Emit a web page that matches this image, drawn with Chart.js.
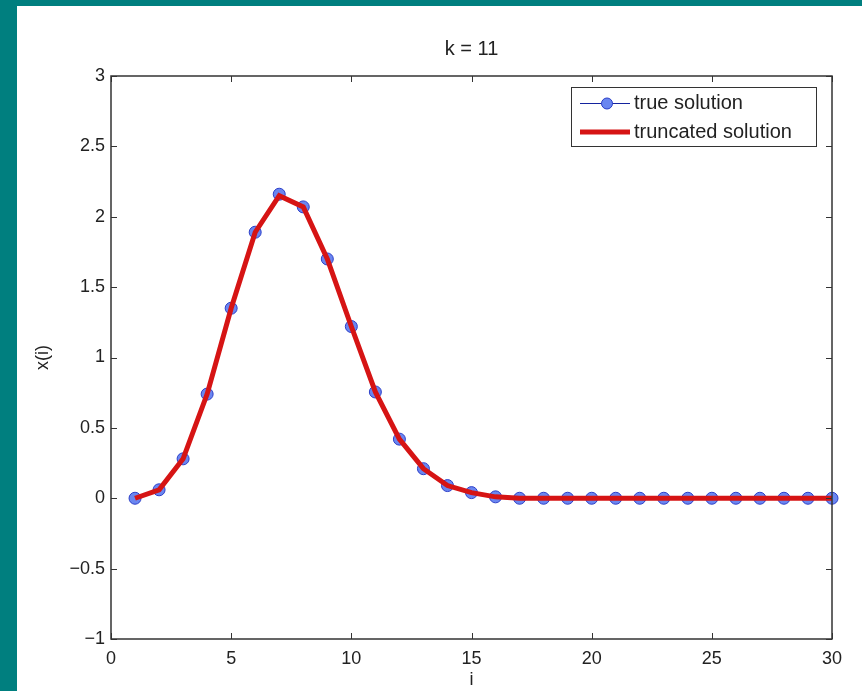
<!DOCTYPE html>
<html>
<head>
<meta charset="utf-8">
<script src="https://cdn.jsdelivr.net/npm/chart.js@4"></script>
<style>
  html, body { margin: 0; padding: 0; background: #007f7f; width: 862px; height: 691px; overflow: hidden; }
  #wrap { position: absolute; left: 17px; top: 6px; width: 845px; height: 685px; background: #fff; }
</style>
</head>
<body>
<div id="wrap"><canvas id="chart" width="845" height="685"></canvas></div>
<script>
const iValues = [1,2,3,4,5,6,7,8,9,10,11,12,13,14,15,16,17,18,19,20,21,22,23,24,25,26,27,28,29,30];
const trueSolution = [0, 0.06, 0.28, 0.74, 1.35, 1.89, 2.16, 2.07, 1.70, 1.22, 0.755, 0.42, 0.21, 0.09, 0.04, 0.01, 0, 0, 0, 0, 0, 0, 0, 0, 0, 0, 0, 0, 0, 0];
const truncatedSolution = [0, 0.06, 0.28, 0.74, 1.35, 1.89, 2.15, 2.07, 1.70, 1.22, 0.755, 0.42, 0.21, 0.09, 0.04, 0.01, 0, 0, 0, 0, 0, 0, 0, 0, 0, 0, 0, 0, 0, 0];
const xTicks = [0, 5, 10, 15, 20, 25, 30];
const yTicks = [-1, -0.5, 0, 0.5, 1, 1.5, 2, 2.5, 3];

const FONT = 'Liberation Sans, Arial, Helvetica, sans-serif';
const AXIS = '#333';

// MATLAB-like box with inward ticks
const boxAxes = {
  id: 'boxAxes',
  afterDatasetsDraw(chart) {
    const { ctx, chartArea: a, scales } = chart;
    ctx.save();
    ctx.strokeStyle = AXIS;
    ctx.lineWidth = 1;
    ctx.beginPath();
    xTicks.forEach(v => {
      const x = Math.round(scales.x.getPixelForValue(v)) + 0.5;
      ctx.moveTo(x, a.bottom); ctx.lineTo(x, a.bottom - 6);
      ctx.moveTo(x, a.top); ctx.lineTo(x, a.top + 6);
    });
    yTicks.forEach(v => {
      const y = Math.round(scales.y.getPixelForValue(v)) + 0.5;
      ctx.moveTo(a.left, y); ctx.lineTo(a.left + 6, y);
      ctx.moveTo(a.right, y); ctx.lineTo(a.right - 6, y);
    });
    ctx.stroke();
    ctx.lineWidth = 1.5;
    ctx.strokeRect(a.left, a.top, a.right - a.left, a.bottom - a.top);
    ctx.restore();
  }
};

// legend box inside the top-right corner
const innerLegend = {
  id: 'innerLegend',
  afterDraw(chart) {
    const { ctx, chartArea: a } = chart;
    const w = 245, h = 59;
    const x0 = a.right - 16 - w, y0 = a.top + 11;
    ctx.save();
    ctx.fillStyle = '#fff';
    ctx.fillRect(x0, y0, w, h);
    ctx.strokeStyle = AXIS;
    ctx.lineWidth = 1;
    ctx.strokeRect(x0 + 0.5, y0 + 0.5, w, h);
    const ds = chart.data.datasets;
    const rows = [y0 + 16.5, y0 + 45];
    ds.forEach((d, k) => {
      const y = rows[k];
      ctx.beginPath();
      ctx.strokeStyle = d.borderColor;
      ctx.lineWidth = d.borderWidth;
      ctx.moveTo(x0 + 9, y); ctx.lineTo(x0 + 59, y);
      ctx.stroke();
      if (d.pointRadius > 0) {
        ctx.beginPath();
        ctx.fillStyle = d.pointBackgroundColor;
        ctx.strokeStyle = d.pointBorderColor;
        ctx.lineWidth = 1;
        ctx.arc(x0 + 36, y, 5.5, 0, Math.PI * 2);
        ctx.fill(); ctx.stroke();
      }
      ctx.fillStyle = '#222';
      ctx.font = '20px ' + FONT;
      ctx.textBaseline = 'middle';
      ctx.textAlign = 'left';
      ctx.fillText(d.label, x0 + 63, y);
    });
    ctx.restore();
  }
};

const minus = v => String(v).replace('-', '\u2212');

new Chart(document.getElementById('chart'), {
  type: 'line',
  data: {
    labels: iValues,
    datasets: [
      {
        label: 'true solution',
        data: iValues.map((x, k) => ({ x: x, y: trueSolution[k] })),
        borderColor: '#14239e',
        borderWidth: 1,
        pointRadius: 6,
        pointBackgroundColor: '#6a86f0',
        pointBorderColor: '#2c3fc8',
        pointBorderWidth: 1,
        tension: 0,
        clip: false,
        order: 1
      },
      {
        label: 'truncated solution',
        data: iValues.map((x, k) => ({ x: x, y: truncatedSolution[k] })),
        borderColor: '#d61414',
        borderWidth: 5,
        pointRadius: 0,
        tension: 0,
        clip: false,
        order: 0
      }
    ]
  },
  options: {
    responsive: false,
    animation: false,
    layout: { padding: { top: 0, right: 30, left: 0, bottom: 0 } },
    scales: {
      x: {
        type: 'linear',
        min: 0, max: 30,
        afterBuildTicks: s => { s.ticks = xTicks.map(v => ({ value: v })); },
        afterFit: s => { s.height = 52; },
        grid: { display: false, drawTicks: false },
        border: { display: false },
        ticks: { color: '#222', padding: 9, maxRotation: 0, font: { family: FONT, size: 18 }, callback: v => minus(v) },
        title: { display: true, text: 'i', color: '#222', padding: { top: 0, bottom: 0 }, font: { family: FONT, size: 18 } }
      },
      top: {
        type: 'linear',
        position: 'top',
        min: 0, max: 30,
        afterFit: s => { s.height = 70; },
        grid: { display: false, drawTicks: false },
        border: { display: false },
        ticks: { display: false },
        title: { display: true, text: 'k = 11', color: '#222', padding: { top: 31, bottom: 0 }, font: { family: FONT, size: 20 } }
      },
      y: {
        type: 'linear',
        min: -1, max: 3,
        afterBuildTicks: s => { s.ticks = yTicks.map(v => ({ value: v })); },
        afterFit: s => { s.width = 94; },
        grid: { display: false, drawTicks: false },
        border: { display: false },
        ticks: { color: '#222', padding: 6, font: { family: FONT, size: 18 }, callback: v => minus(v) },
        title: { display: true, text: 'x(i)', color: '#222', padding: { top: 15, bottom: 0 }, font: { family: FONT, size: 18 } }
      }
    },
    plugins: {
      legend: { display: false },
      tooltip: { enabled: false },
      title: { display: false }
    }
  },
  plugins: [boxAxes, innerLegend]
});
</script>
</body>
</html>
